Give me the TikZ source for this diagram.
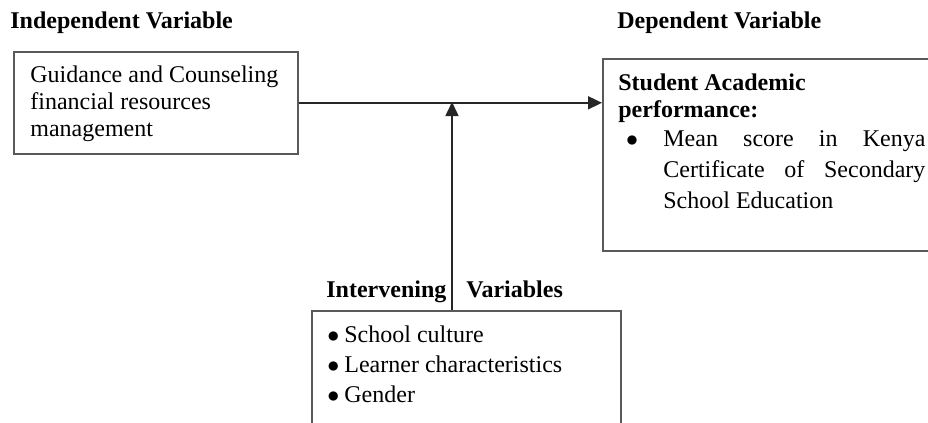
\documentclass[tikz,border=0pt]{standalone}
\usepackage{fontspec}
\setmainfont{Liberation Serif}
\usetikzlibrary{arrows.meta}

\tikzset{
  varbox/.style={draw=black!65, line width=0.8pt, anchor=north west, inner sep=0pt},
  head/.style={font=\fontsize{12}{13.5}\selectfont\bfseries, anchor=base west, inner sep=0pt},
  body/.style={anchor=north west, inner sep=0pt, align=left},
  link/.style={draw=black!85, line width=0.8pt, -{Triangle[length=7pt,width=6.5pt]}}
}

\begin{document}
\begin{tikzpicture}[x=0.5pt, y=-0.5pt, font=\fontsize{12}{13.5}\selectfont]
    \useasboundingbox (0,0) rectangle (928,423);
    \clip (0,0) rectangle (928,423);
      % headings
      \node[head] (ivhead) at (10,28) {Independent Variable};
      \node[head] (dvhead) at (617,28) {Dependent Variable};
      % independent variable
      \node[varbox, minimum width=142pt, minimum height=51pt] (iv) at (13,51) {};
      \node[body] (ivtext) at (30,65.6) {Guidance and Counseling\\financial resources\\management};
      % dependent variable
      \node[varbox, minimum width=170pt, minimum height=96pt] (dv) at (602,58) {};
      \node[body, font=\fontsize{12}{13.5}\selectfont\bfseries] (dvtitle) at (618,73.6) {Student Academic\\performance:};
      \node[anchor=base, inner sep=0pt] (dvbullet) at (632,146.7) {$\bullet$};
      \node[body, text width=131pt, align=justify, font=\fontsize{12}{15.5}\selectfont] (dvtext) at (663,130.5)
        {Mean score in Kenya Certificate of Secondary School Education};
      % intervening variables
      \node[head] (mvhead) at (326,297) {Intervening\hspace{7pt} Variables};
      \node[varbox, minimum width=154.5pt, minimum height=65pt] (mv) at (311,310) {};
      \node[body, font=\fontsize{12}{15}\selectfont] (mvtext) at (327,325.3)
        {$\bullet$\hspace{2.5pt}School culture\\$\bullet$\hspace{2.5pt}Learner characteristics\\$\bullet$\hspace{2.5pt}Gender};
      % arrows
      \coordinate (jn) at (452,102);
      \draw[link] (iv.east) -- (iv.east -| dv.west);
      \draw[link] (mv.north -| jn) -- (jn);
    \end{tikzpicture}
\end{document}
